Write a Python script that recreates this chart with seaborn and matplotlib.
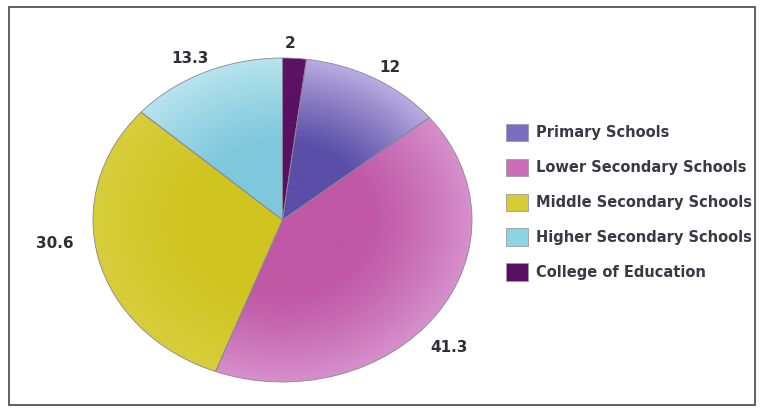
import matplotlib.pyplot as plt
import numpy as np
import seaborn as sns
from matplotlib.colors import LinearSegmentedColormap
from matplotlib.patches import Patch, Rectangle

# Data (clockwise from 12 o'clock)
categories = ["College of Education", "Primary Schools", "Lower Secondary Schools",
              "Middle Secondary Schools", "Higher Secondary Schools"]
values = [2, 12, 41.3, 30.6, 13.3]
value_labels = ["2", "12", "41.3", "30.6", "13.3"]
legend_order = ["Primary Schools", "Lower Secondary Schools", "Middle Secondary Schools",
                "Higher Secondary Schools", "College of Education"]

# colours: inner (centre) and outer (rim) of each slice
inner = {"College of Education": "#5a1062", "Primary Schools": "#5a4ea8",
         "Lower Secondary Schools": "#c058a6", "Middle Secondary Schools": "#d0c420",
         "Higher Secondary Schools": "#7ec8dc"}
outer = {"College of Education": "#5e1466", "Primary Schools": "#bcaee2",
         "Lower Secondary Schools": "#d690cc", "Middle Secondary Schools": "#d8ce3c",
         "Higher Secondary Schools": "#b8e4ee"}
legend_col = {"College of Education": "#5a1062", "Primary Schools": "#7a6cc0",
              "Lower Secondary Schools": "#cc6cb8", "Middle Secondary Schools": "#d6cc34",
              "Higher Secondary Schools": "#8ad4e4"}
# label placement: radial factor and angle shift (deg) per slice
label_dist = [1.09, 1.1, 1.18, 1.21, 1.11]
label_shift = [1.5, -2, -6, -7, 2]

sns.set_style("white")
plt.rcParams["font.family"] = ["DejaVu Sans"]

W, H = 761, 411
fig = plt.figure(figsize=(W / 100, H / 100), dpi=100)
ax = fig.add_axes([93 / W, (H - 382) / H, 379 / W, 324 / H])

wedges, _ = ax.pie(values, startangle=90, counterclock=False, radius=1,
                   colors=[inner[c] for c in categories],
                   wedgeprops=dict(edgecolor="#8a8494", linewidth=0.6))

# soft radial gradient fill clipped to each wedge
g = np.linspace(-1, 1, 500)
gx, gy = np.meshgrid(g, g)
rr = np.hypot(gx, gy)
for w, c in zip(wedges, categories):
    cmap = LinearSegmentedColormap.from_list(c, [(0, inner[c]), (0.3, inner[c]), (1, outer[c])])
    im = ax.imshow(rr ** 1.6, cmap=cmap, vmin=0, vmax=1, extent=(-1, 1, -1, 1),
                   origin="lower", aspect="auto", zorder=w.get_zorder() - 0.5)
    im.set_clip_path(w)
    w.set_facecolor("none")

ax.set_aspect("auto")
ax.set_xlim(-1, 1)
ax.set_ylim(-1, 1)
ax.axis("off")

# value labels near the middle angle of each wedge
for w, lab, d, s in zip(wedges, value_labels, label_dist, label_shift):
    ang = np.deg2rad((w.theta1 + w.theta2) / 2 + s)
    ax.text(d * np.cos(ang), d * np.sin(ang), lab, ha="center", va="center",
            fontsize=11, fontweight="bold", color="#2e2e36")

handles = [Patch(facecolor=legend_col[c], edgecolor="#9a9aa6", linewidth=0.6) for c in legend_order]
fig.legend(handles, legend_order, loc="upper left", bbox_to_anchor=(506 / W, 1 - 124 / H),
           frameon=False, handlelength=1.5, handleheight=1.45,
           labelspacing=1.2, handletextpad=0.55, borderpad=0, borderaxespad=0,
           prop=dict(weight="bold", size=10.5), labelcolor="#3a3a46")

# outer frame
fig.patches.append(Rectangle((8.5 / W, 6 / H), 746.5 / W, 398 / H, transform=fig.transFigure,
                             fill=False, edgecolor="#555555", linewidth=1.3))

fig.savefig("out.png", dpi=100)
